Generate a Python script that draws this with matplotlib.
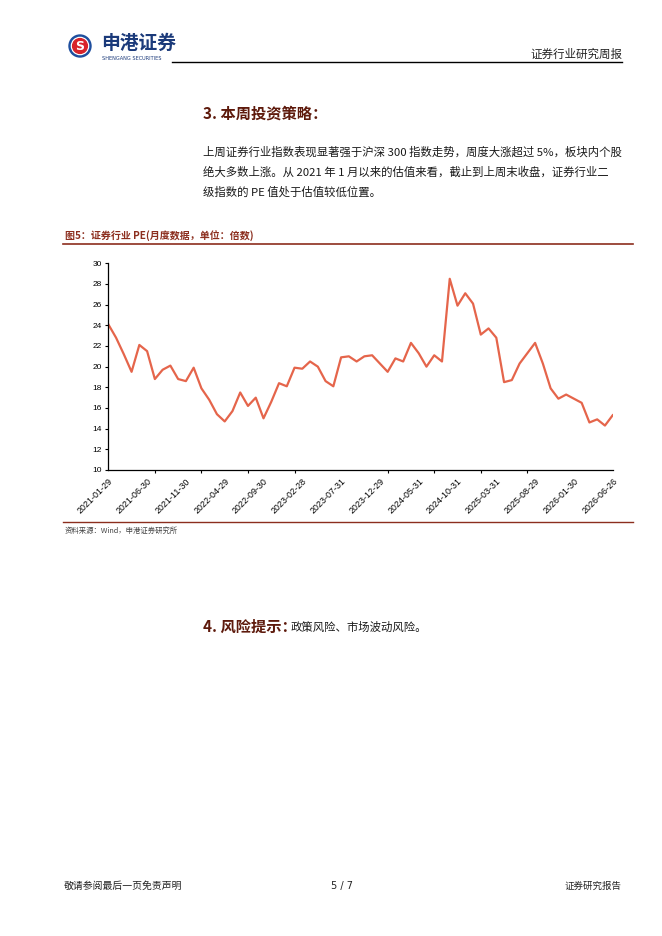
import matplotlib
matplotlib.use("Agg")
import matplotlib.pyplot as plt
from matplotlib.patches import Circle
import numpy as np

plt.rcParams['font.family'] = ['Noto Sans CJK SC', 'DejaVu Sans']

# monthly PE of the securities sector index, 2021-01 .. 2026-06 (66 months)
pe_values = [24.1, 22.8, 21.2, 19.5, 22.1, 21.5, 18.8, 19.7, 20.1, 18.8,
             18.6, 19.9, 17.9, 16.8, 15.4, 14.7, 15.7, 17.5, 16.2, 17.0,
             15.0, 16.6, 18.4, 18.1, 19.9, 19.8, 20.5, 20.0, 18.6, 18.1,
             20.9, 21.0, 20.5, 21.0, 21.1, 20.3, 19.5, 20.8, 20.5, 22.3,
             21.3, 20.0, 21.1, 20.5, 28.5, 25.9, 27.1, 26.1, 23.1, 23.7,
             22.8, 18.5, 18.7, 20.3, 21.3, 22.3, 20.3, 17.9, 16.9, 17.3,
             16.9, 16.5, 14.6, 14.9, 14.3, 15.3]
tick_labels = ['2021-01-29', '2021-06-30', '2021-11-30', '2022-04-29',
               '2022-09-30', '2023-02-28', '2023-07-31', '2023-12-29',
               '2024-05-31', '2024-10-31', '2025-03-31', '2025-08-29',
               '2026-01-30', '2026-06-26']
y_ticks = list(range(10, 31, 2))

W, H = 662, 936
fig = plt.figure(figsize=(W / 100, H / 100), dpi=100)

# page layer in pixel coordinates
bg = fig.add_axes([0, 0, 1, 1])
bg.set_xlim(0, W)
bg.set_ylim(H, 0)
bg.axis('off')

brown = '#5e1a0c'
red_line = '#8c2e1e'
navy = '#1b3a7a'

# logo
bg.add_patch(Circle((80, 46), 11, color='#1d4e9e'))
bg.add_patch(Circle((80, 46), 8.6, color='white'))
bg.add_patch(Circle((80, 46), 7.4, color='#d8232a'))
bg.text(80, 46.5, 'S', color='white', fontsize=9, fontweight='bold',
        ha='center', va='center', family='DejaVu Sans')
bg.text(101, 43, '申港证券', color=navy, fontsize=13.5, fontweight='bold',
        ha='left', va='center')
bg.text(102, 58, 'SHENGANG SECURITIES', color=navy, fontsize=3.6,
        ha='left', va='center', family='DejaVu Sans')

# header
bg.plot([172, 622], [61.7, 61.7], color='black', lw=1.0)
bg.text(622, 54, '证券行业研究周报', fontsize=8.3, ha='right', va='center',
        color='#222222')

# section 3
bg.text(203, 114, '3. 本周投资策略：', fontsize=11, fontweight='bold',
        color=brown, ha='left', va='center')
body = ['上周证券行业指数表现显著强于沪深 300 指数走势，周度大涨超过 5%，板块内个股',
        '绝大多数上涨。从 2021 年 1 月以来的估值来看，截止到上周末收盘，证券行业二',
        '级指数的 PE 值处于估值较低位置。']
for i, line in enumerate(body):
    bg.text(203, 152 + 20 * i, line, fontsize=8.2, color='#1a1a1a',
            ha='left', va='center')

# figure caption and rules
bg.text(65, 236, '图5：证券行业 PE(月度数据，单位：倍数)', fontsize=7.2,
        fontweight='bold', color=red_line, ha='left', va='center')
bg.plot([63, 633], [243.5, 243.5], color=red_line, lw=1.2)
bg.plot([63, 633], [522, 522], color=red_line, lw=1.0)
bg.text(65, 531, '资料来源：Wind，申港证券研究所', fontsize=5.3, style='italic',
        color='#444444', ha='left', va='center')

# section 4
bg.text(203, 627, '4. 风险提示：', fontsize=11, fontweight='bold',
        color=brown, ha='left', va='center')
bg.text(291, 627, '政策风险、市场波动风险。', fontsize=8.2, color='#1a1a1a',
        ha='left', va='center')

# footer
bg.text(64, 886, '敬请参阅最后一页免责声明', fontsize=7.1, color='#222222',
        ha='left', va='center')
bg.text(342, 886, '5 / 7', fontsize=7, color='#222222', ha='center',
        va='center', family='DejaVu Sans')
bg.text(622, 886, '证券研究报告', fontsize=6.8, color='#222222',
        ha='right', va='center')

# chart
left, right = 108.3 / W, 612.7 / W
bottom, top = 1 - 470 / H, 1 - 263.3 / H
ax = fig.add_axes([left, bottom, right - left, top - bottom])
x = np.arange(len(pe_values))
ax.plot(x, pe_values, color='#e5654b', lw=1.6)
ax.set_xlim(0, len(pe_values) - 1)
ax.set_ylim(10, 30)
ax.set_yticks(y_ticks)
ax.set_yticklabels([str(v) for v in y_ticks], family='Liberation Sans')
ax.tick_params(axis='y', labelsize=6, length=2.5, width=0.8, pad=2)
ax.set_xticks(np.arange(0, len(pe_values), 5))
ax.set_xticklabels(tick_labels, rotation=45, ha='right',
                   rotation_mode='anchor', fontsize=6.4,
                   family='Liberation Sans')
ax.tick_params(axis='x', which='major', length=0, pad=5)
ax.set_xticks(list(range(0, len(pe_values), 6)) + [len(pe_values) - 1],
              minor=True)
ax.tick_params(axis='x', which='minor', length=2.5, width=0.8)
for s in ['top', 'right']:
    ax.spines[s].set_visible(False)
for s in ['left', 'bottom']:
    ax.spines[s].set_linewidth(0.9)
ax.patch.set_alpha(0)

fig.savefig('out.png', dpi=100)
